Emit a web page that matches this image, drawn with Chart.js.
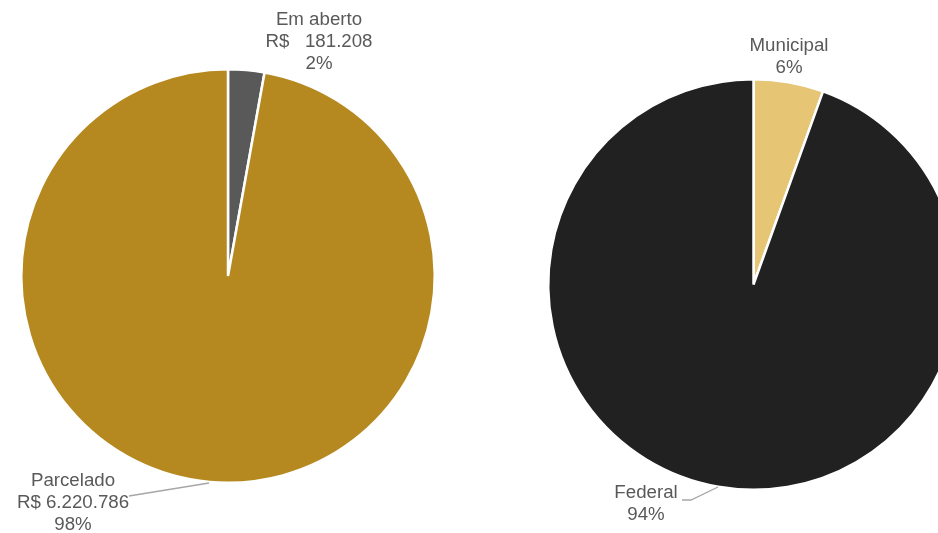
<!DOCTYPE html>
<html>
<head>
<meta charset="utf-8">
<script src="https://cdn.jsdelivr.net/npm/chart.js@4.4.0/dist/chart.umd.min.js"></script>
<style>
  html, body { margin: 0; padding: 0; background: #fff; overflow: hidden; width: 938px; height: 533px; }
  #left { position: absolute; left: 0; top: 0; }
  #right { position: absolute; left: 469px; top: 0; }
</style>
</head>
<body>
<canvas id="left" width="469" height="533"></canvas>
<canvas id="right" width="520" height="533"></canvas>
<script>
'use strict';

//***********Data***********
let statusNames = ['Em aberto', 'Parcelado'];
let statusValues = [181208, 6220786];
let statusMoney = ['R$   181.208', 'R$ 6.220.786'];
let statusPct = ['2%', '98%'];

let sphereNames = ['Municipal', 'Federal'];
let sphereValues = [5.5, 94.5];
let spherePct = ['6%', '94%'];

//***********Label plugin***********
let labelFont = '18.7px "Liberation Sans", Arial, sans-serif';

function makeLabelPlugin(labels) {
  return {
    id: 'sliceLabels',
    afterDraw(chart) {
      let ctx = chart.ctx;
      ctx.save();
      ctx.font = labelFont;
      ctx.fillStyle = '#595959';
      ctx.textAlign = 'center';
      ctx.textBaseline = 'middle';
      for (let i = 0; i < labels.length; i++) {
        let lab = labels[i];
        if (lab.line) {
          ctx.strokeStyle = '#a6a6a6';
          ctx.lineWidth = 1.3;
          ctx.beginPath();
          ctx.moveTo(lab.line[0][0], lab.line[0][1]);
          for (let k = 1; k < lab.line.length; k++) {
            ctx.lineTo(lab.line[k][0], lab.line[k][1]);
          }
          ctx.stroke();
        }
        for (let j = 0; j < lab.lines.length; j++) {
          ctx.fillText(lab.lines[j], lab.x, lab.y + j * 22);
        }
      }
      ctx.restore();
    }
  };
}

//***********Left pie***********
let leftLabels = [
  { x: 319, y: 20, lines: [statusNames[0], statusMoney[0], statusPct[0]] },
  { x: 73, y: 481, lines: [statusNames[1], statusMoney[1], statusPct[1]],
    line: [[129, 496], [209, 483]] }
];

new Chart(document.getElementById('left').getContext('2d'), {
  type: 'pie',
  data: {
    labels: statusNames,
    datasets: [{
      data: statusValues,
      backgroundColor: ['#595959', '#b5891f'],
      borderColor: '#ffffff',
      borderWidth: 2.5
    }]
  },
  options: {
    responsive: false,
    animation: false,
    devicePixelRatio: 1,
    layout: { padding: { left: 20, right: 33, top: 68, bottom: 49 } },
    plugins: { legend: { display: false }, tooltip: { enabled: false } }
  },
  plugins: [makeLabelPlugin(leftLabels)]
});

//***********Right pie***********
// canvas starts at x=469, so label x values are local
let rightLabels = [
  { x: 789 - 469, y: 46, lines: [sphereNames[0], spherePct[0]] },
  { x: 646 - 469, y: 493, lines: [sphereNames[1], spherePct[1]],
    line: [[682 - 469, 500], [691 - 469, 500], [718 - 469, 487]] }
];

new Chart(document.getElementById('right').getContext('2d'), {
  type: 'pie',
  data: {
    labels: sphereNames,
    datasets: [{
      data: sphereValues,
      backgroundColor: ['#e6c574', '#212121'],
      borderColor: '#ffffff',
      borderWidth: 2.5
    }]
  },
  options: {
    responsive: false,
    animation: false,
    devicePixelRatio: 1,
    layout: { padding: { left: 78, right: 29, top: 78, bottom: 42 } },
    plugins: { legend: { display: false }, tooltip: { enabled: false } }
  },
  plugins: [makeLabelPlugin(rightLabels)]
});
</script>
</body>
</html>
